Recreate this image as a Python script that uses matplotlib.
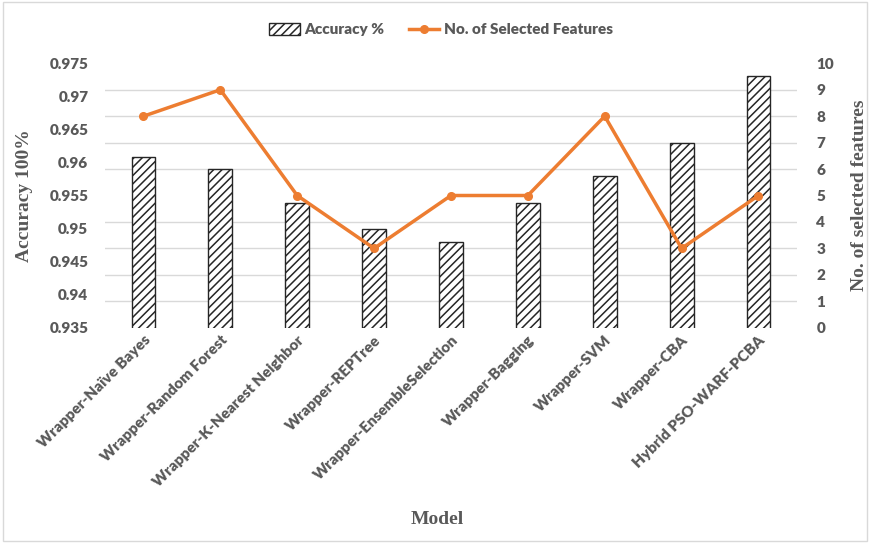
import numpy as np
import matplotlib.pyplot as plt
from matplotlib.patches import Rectangle
from matplotlib.ticker import FuncFormatter

models = ['Wrapper-Naïve Bayes', 'Wrapper-Random Forest', 'Wrapper-K-Nearest Neighbor',
          'Wrapper-REPTree', 'Wrapper-EnsembleSelection', 'Wrapper-Bagging',
          'Wrapper-SVM', 'Wrapper-CBA', 'Hybrid PSO-WARF-PCBA']
accuracy = [0.9609, 0.9590, 0.9538, 0.9499, 0.9479, 0.9538, 0.9580, 0.9629, 0.9731]
n_features = [8, 9, 5, 3, 5, 5, 8, 3, 5]

gray = '#595959'
orange = '#ED7D31'
plt.rcParams['font.family'] = ['Lato', 'DejaVu Sans']
plt.rcParams['hatch.linewidth'] = 1.1

fig = plt.figure(figsize=(8.7, 5.43), dpi=100)
ax = fig.add_axes([0.1207, 0.3965, 0.7953, 0.4869])
ax2 = ax.twinx()

x = np.arange(len(models))
ax.bar(x, accuracy, width=0.31, color='white', edgecolor='#262626',
       hatch='////', linewidth=1.0, zorder=2, label='Accuracy %')
ax.set_ylim(0.935, 0.975)
ax.set_xlim(-0.5, len(models) - 0.5)
ax.set_yticks(np.arange(0.935, 0.9751, 0.005))
ax.yaxis.set_major_formatter(FuncFormatter(lambda v, p: f'{round(v, 3):g}'))
ax.set_yticks(np.linspace(0.935, 0.975, 11), minor=True)
ax.grid(which='minor', axis='y', color='#d9d9d9', linewidth=1.0, zorder=0)
ax.set_axisbelow(True)
ax.tick_params(axis='y', which='both', length=0, colors=gray, labelsize=11, pad=12)
ax.tick_params(axis='x', length=0, colors=gray, labelsize=11, pad=4)
for lbl in ax.get_yticklabels():
    lbl.set_fontweight('heavy')
ax.set_xticks(x)
ax.set_xticklabels(models, rotation=45, ha='right', rotation_mode='anchor',
                   fontweight='heavy')
for s in ax.spines.values():
    s.set_visible(False)

ax2.plot(x, n_features, color=orange, linewidth=2.5, marker='o', markersize=5.5,
         label='No. of Selected Features', zorder=3)
ax2.set_ylim(0, 10)
ax2.set_yticks(range(0, 11))
ax2.tick_params(axis='y', length=0, colors=gray, labelsize=11, pad=14)
for lbl in ax2.get_yticklabels():
    lbl.set_fontweight('heavy')
for s in ax2.spines.values():
    s.set_visible(False)

serif = ['Liberation Serif', 'DejaVu Serif']
ax.set_ylabel('Accuracy 100%', family=serif, fontweight='bold', fontsize=14,
              color=gray, labelpad=12)
ax2.set_ylabel('No. of selected features', family=serif, fontweight='bold',
               fontsize=14, color=gray, labelpad=12)
fig.text(0.503, 0.043, 'Model', family=serif, fontweight='bold', fontsize=14,
         color=gray, ha='center', va='center')

h1, l1 = ax.get_legend_handles_labels()
h2, l2 = ax2.get_legend_handles_labels()
leg = fig.legend(h1 + h2, l1 + l2, loc='center', bbox_to_anchor=(0.507, 0.945),
                 ncol=2, frameon=False, fontsize=11, handlelength=2.0,
                 handleheight=0.8, columnspacing=1.6, handletextpad=0.3)
for t in leg.get_texts():
    t.set_color(gray)
    t.set_fontweight('heavy')

fig.patches.append(Rectangle((0.004, 0.004), 0.992, 0.992, transform=fig.transFigure,
                             fill=False, edgecolor='#d9d9d9', linewidth=1.0))

fig.savefig('out.png', dpi=100)
